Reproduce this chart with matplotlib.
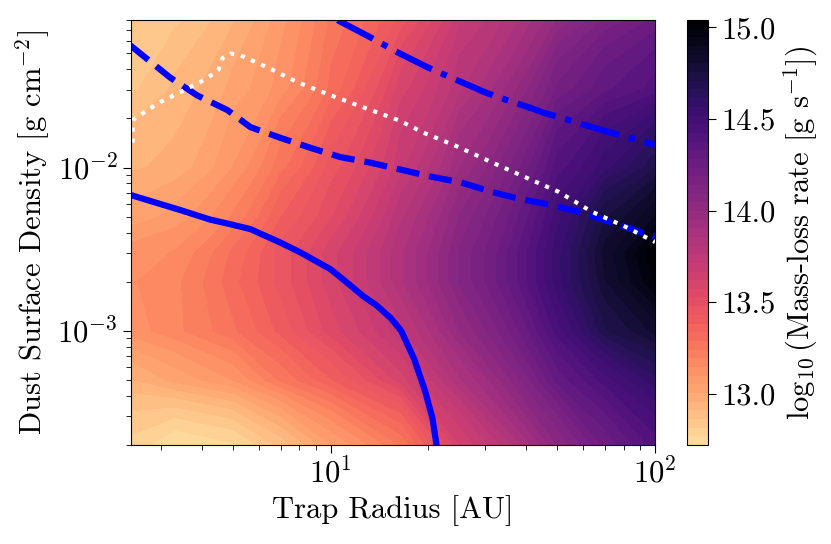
import numpy as np
import matplotlib
matplotlib.use("Agg")
import matplotlib.pyplot as plt
from matplotlib.colors import Normalize

plt.rcParams['font.family'] = 'serif'
plt.rcParams['font.serif'] = ['cmr10']
plt.rcParams['mathtext.fontset'] = 'cm'
plt.rcParams['axes.formatter.use_mathtext'] = True
plt.rcParams['font.size'] = 22

# grid of log10 mass-loss rate
radius = [2.4, 3.3, 5.0, 7.0, 10.0, 16.5, 25.0, 50.0, 70.0, 100.0]
sigma = [2e-4, 5e-4, 1e-3, 2e-3, 3e-3, 5e-3, 1e-2, 3e-2, 8e-2]
mdot = [
    [12.80, 12.72, 12.76, 12.88, 13.05, 13.25, 13.62, 14.05, 14.25, 14.40],
    [12.95, 13.02, 13.10, 13.25, 13.38, 13.60, 13.85, 14.30, 14.45, 14.60],
    [13.12, 13.18, 13.28, 13.40, 13.55, 13.75, 14.00, 14.45, 14.70, 14.82],
    [13.14, 13.18, 13.32, 13.45, 13.60, 13.85, 14.10, 14.55, 14.80, 15.00],
    [13.12, 13.15, 13.30, 13.45, 13.60, 13.85, 14.10, 14.55, 14.82, 15.04],
    [13.02, 13.07, 13.20, 13.38, 13.52, 13.80, 14.05, 14.50, 14.75, 14.90],
    [12.95, 12.97, 13.10, 13.27, 13.45, 13.70, 13.95, 14.40, 14.55, 14.70],
    [12.85, 12.92, 13.02, 13.12, 13.30, 13.60, 13.80, 14.20, 14.32, 14.40],
    [12.82, 12.85, 12.95, 13.08, 13.25, 13.45, 13.70, 14.00, 14.15, 14.25],
]

solid_x = [2.41, 3.43, 4.25, 4.90, 5.65, 7.0, 8.07, 10.0, 11.1, 12.6, 13.8,
           15.3, 16.5, 18.1, 19.6, 20.6, 21.2]
solid_y = [6.8e-3, 5.5e-3, 4.8e-3, 4.5e-3, 4.2e-3, 3.47e-3, 3.02e-3, 2.38e-3,
           2.01e-3, 1.63e-3, 1.44e-3, 1.2e-3, 1.0e-3, 6.7e-4, 4.2e-4, 2.9e-4,
           2.0e-4]

dash_x = [2.41, 3.19, 3.87, 4.80, 5.65, 7.0, 8.67, 10.7, 13.3, 16.5, 20.4, 25.3,
          31.3, 38.7, 48.0, 59.5, 73.6, 91.2, 100.0]
dash_y = [0.056, 0.0357, 0.0277, 0.0225, 0.0177, 0.0152, 0.0132, 0.0116, 0.0107,
          0.0097, 0.0088, 0.0081, 0.0071, 0.0064, 0.0059, 0.0053, 0.0046, 0.0040,
          0.0038]

dashdot_x = [10.5, 13.3, 16.1, 19.9, 21.9, 29.8, 32.8, 41.6, 45.6, 50.4, 68.5,
             76.3, 100.0]
dashdot_y = [0.080, 0.0625, 0.0507, 0.0411, 0.0378, 0.0290, 0.0270, 0.0231,
             0.0216, 0.0204, 0.0170, 0.0160, 0.0138]

dot_x = [2.45, 2.45, 2.64, 2.98, 3.44, 4.05, 4.50, 4.63, 4.90, 5.26, 6.38, 7.90,
         10.0, 12.6, 16.2, 19.4, 24.7, 31.3, 39.6, 50.4, 63.8, 80.9, 100.0]
dot_y = [0.0142, 0.0195, 0.0216, 0.0252, 0.0290, 0.0343, 0.0394, 0.0467, 0.0500,
         0.0487, 0.0411, 0.0333, 0.0277, 0.0234, 0.0195, 0.0163, 0.0134, 0.0108,
         0.00877, 0.00711, 0.00537, 0.00435, 0.0035]

fig = plt.figure(figsize=(8.31, 5.44), dpi=100)
ax = fig.add_axes([0.1576, 0.182, 0.6306, 0.781])
cax = fig.add_axes([0.8267, 0.182, 0.0253, 0.781])

z = np.array(mdot)
levels = np.linspace(z.min(), z.max(), 50)
cs = ax.contourf(radius, sigma, z, levels=levels, cmap='magma_r',
                 norm=Normalize(vmin=12.55, vmax=z.max()), antialiased=False)

ax.plot(solid_x, solid_y, color='blue', lw=4.5, ls='-')
ax.plot(dash_x, dash_y, color='blue', lw=4.5, ls='--')
ax.plot(dashdot_x, dashdot_y, color='blue', lw=4.5, ls='-.')
ax.plot(dot_x, dot_y, color='white', lw=3, ls=':')

ax.set_xscale('log')
ax.set_yscale('log')
ax.set_xlim(2.42, 100)
ax.set_ylim(2e-4, 0.08)
ax.set_xlabel('Trap Radius [AU]')
ax.set_ylabel(r'Dust Surface Density [g cm$^{-2}$]')
ax.tick_params(which='major', length=6)
ax.tick_params(which='minor', length=3.5)

cb = fig.colorbar(cs, cax=cax, ticks=[13.0, 13.5, 14.0, 14.5, 15.0])
cb.ax.set_yticklabels(['13.0', '13.5', '14.0', '14.5', '15.0'])
cb.ax.tick_params(length=6)
cb.set_label(r'$\log_{10}$(Mass-loss rate [g s$^{-1}$])')

fig.savefig('out.png', dpi=100)
